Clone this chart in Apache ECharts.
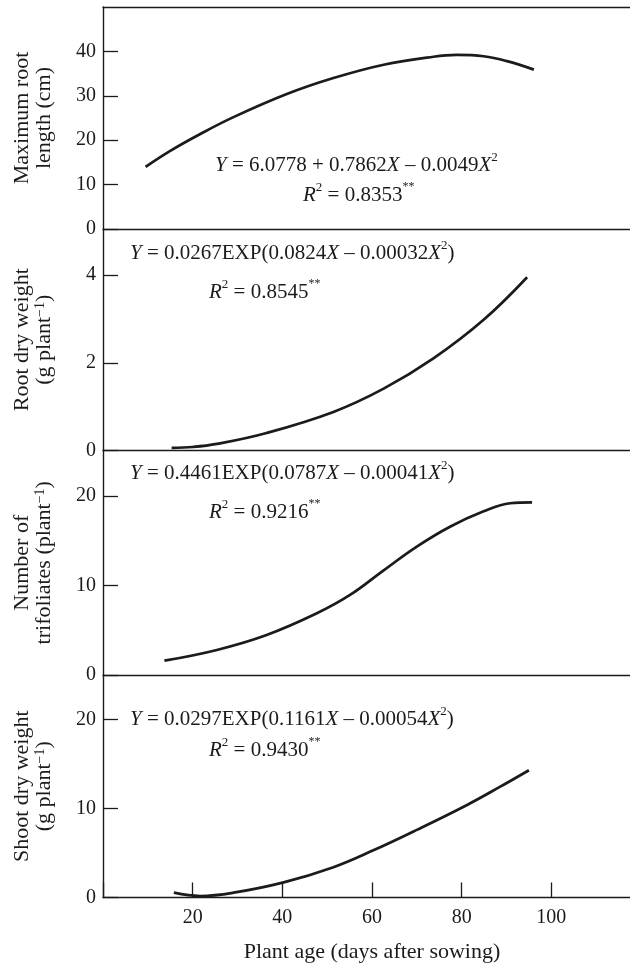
<!DOCTYPE html>
<html>
<head>
<meta charset="utf-8">
<script src="https://cdn.jsdelivr.net/npm/echarts@6/dist/echarts.min.js"></script>
<style>
  html, body { margin: 0; padding: 0; background: #fff; overflow: hidden; }
  #chart { width: 630px; height: 967px; }
</style>
</head>
<body>
<div id="chart"></div>
<script>
// values (days after sowing -> response)
const rootLenDays = [9.5, 15, 21.7, 29.1, 41, 51.4, 62.6, 73.7, 78.9, 84.9, 90.1, 96.1]
const rootLen = [14.0, 17.6, 21.4, 25.2, 30.4, 34.0, 37.0, 38.8, 39.2, 38.9, 37.8, 35.9]

const rootWtDays = [15.3, 20, 25.4, 36.5, 51.4, 62.6, 73.7, 84.9, 94.6]
const rootWt = [0.06, 0.08, 0.15, 0.40, 0.88, 1.41, 2.10, 2.98, 3.95]

const trifolDays = [13.7, 25.4, 36.5, 47.7, 55.1, 62.6, 70.0, 77.5, 84.9, 90.8, 95.7]
const trifol = [1.6, 2.8, 4.47, 6.9, 8.95, 11.7, 14.35, 16.6, 18.3, 19.2, 19.3]

const shootDays = [15.8, 21.7, 29.1, 40.3, 51.4, 60.3, 70.0, 81.2, 88.6, 95.0]
const shootWt = [0.54, 0.17, 0.54, 1.7, 3.4, 5.3, 7.6, 10.4, 12.45, 14.3]

const xTicks = [20, 40, 60, 80, 100]
const yTicks = [
  [0, 10, 20, 30, 40],
  [0, 2, 4],
  [0, 10, 20],
  [0, 10, 20],
]
const yMax = [50, 5.05, 25.1, 25]
const yStep = [10, 2, 10, 10]

const yNames = [
  '{n|Maximum root}\n{n|length (cm)}',
  '{n|Root dry weight}\n{n|(g plant}{s|−1}{n|)}',
  '{n|Number of}\n{n|trifoliates (plant}{s|−1}{n|)}',
  '{n|Shoot dry weight}\n{n|(g plant}{s|−1}{n|)}',
]
const equations = [
  '{i|Y}{n| = 6.0778 + 0.7862}{i|X}{n| – 0.0049}{i|X}{s|2}',
  '{i|Y}{n| = 0.0267EXP(0.0824}{i|X}{n| – 0.00032}{i|X}{s|2}{n|)}',
  '{i|Y}{n| = 0.4461EXP(0.0787}{i|X}{n| – 0.00041}{i|X}{s|2}{n|)}',
  '{i|Y}{n| = 0.0297EXP(0.1161}{i|X}{n| – 0.00054}{i|X}{s|2}{n|)}',
]
const rSquared = [
  '{i|R}{s|2}{n| = 0.8353}{a|**}',
  '{i|R}{s|2}{n| = 0.8545}{a|**}',
  '{i|R}{s|2}{n| = 0.9216}{a|**}',
  '{i|R}{s|2}{n| = 0.9430}{a|**}',
]

const FONT = '"Liberation Serif", "Times New Roman", serif'
const INK = '#1c1a1a'

// panel layout (px); x runs 0..120 at ~4.48 px/day, the right end is cut by the page
const panels = [
  { top: 7, height: 222, eq: [215, 165], r2: [303, 195] },
  { top: 229, height: 221.5, eq: [130, 253], r2: [209, 292] },
  { top: 450.5, height: 224.5, eq: [130, 473], r2: [209, 512] },
  { top: 675, height: 222.5, eq: [130, 719], r2: [209, 750] },
]

const eqRich = {
  n: { fontFamily: FONT, fontSize: 21, lineHeight: 28, fill: INK },
  i: { fontFamily: FONT, fontSize: 21, lineHeight: 28, fontStyle: 'italic', fill: INK },
  s: { fontFamily: FONT, fontSize: 13, lineHeight: 16, verticalAlign: 'top', fill: INK },
  a: { fontFamily: FONT, fontSize: 12, lineHeight: 16, verticalAlign: 'top', fill: INK },
}

const axisLine = { show: true, lineStyle: { color: INK, width: 1.4 } }

function pairs(xs, ys) {
  return xs.map((x, i) => [x, ys[i]])
}

const chart = echarts.init(document.getElementById('chart'), null, { renderer: 'canvas' })

const grids = panels.map((p) => ({
  left: 103,
  width: 538,
  top: p.top,
  height: p.height,
  outerBoundsMode: 'none',
  containLabel: false,
}))

const xAxes = panels.map((p, i) => {
  const last = i === panels.length - 1
  return {
    type: 'value',
    gridIndex: i,
    min: 0,
    max: 120,
    interval: 20,
    axisLine,
    splitLine: { show: false },
    axisTick: { show: last, inside: true, length: 15, lineStyle: { color: INK, width: 1.3 } },
    axisLabel: {
      show: last,
      margin: 10,
      fontFamily: FONT,
      fontSize: 20,
      color: INK,
      formatter: (v) => (xTicks.includes(v) ? String(v) : ''),
    },
    name: last ? 'Plant age (days after sowing)' : '',
    nameLocation: 'middle',
    nameGap: 44,
    nameTextStyle: { fontFamily: FONT, fontSize: 22, color: INK },
  }
})
// top frame line of the first panel
xAxes.push({
  type: 'value',
  gridIndex: 0,
  position: 'top',
  min: 0,
  max: 120,
  axisLine,
  axisTick: { show: false },
  axisLabel: { show: false },
  splitLine: { show: false },
})

const yAxes = panels.map((p, i) => ({
  type: 'value',
  gridIndex: i,
  min: 0,
  max: yMax[i],
  interval: yStep[i],
  axisLine,
  splitLine: { show: false },
  axisTick: { show: true, inside: true, length: 15, lineStyle: { color: INK, width: 1.3 } },
  axisLabel: {
    margin: 7,
    fontFamily: FONT,
    fontSize: 20,
    color: INK,
    showMaxLabel: false,
    formatter: (v) => (yTicks[i].includes(v) ? String(v) : ''),
  },
  name: yNames[i],
  nameLocation: 'middle',
  nameRotate: 90,
  nameGap: 48,
  nameTextStyle: {
    fontFamily: FONT,
    fontSize: 22,
    color: INK,
    rich: {
      n: { fontFamily: FONT, fontSize: 22, lineHeight: 22, color: INK },
      s: { fontFamily: FONT, fontSize: 14, lineHeight: 22, verticalAlign: 'top', color: INK },
    },
  },
}))

const curves = [
  pairs(rootLenDays, rootLen),
  pairs(rootWtDays, rootWt),
  pairs(trifolDays, trifol),
  pairs(shootDays, shootWt),
]

const series = curves.map((data, i) => ({
  type: 'line',
  xAxisIndex: i,
  yAxisIndex: i,
  data,
  smooth: 0.4,
  showSymbol: false,
  lineStyle: { color: INK, width: 2.7 },
  z: 3,
}))

const graphic = []
panels.forEach((p, i) => {
  graphic.push({
    type: 'text',
    x: p.eq[0],
    y: p.eq[1],
    style: { text: equations[i], rich: eqRich, textAlign: 'left', textVerticalAlign: 'middle' },
  })
  graphic.push({
    type: 'text',
    x: p.r2[0],
    y: p.r2[1],
    style: { text: rSquared[i], rich: eqRich, textAlign: 'left', textVerticalAlign: 'middle' },
  })
})

chart.setOption({
  animation: false,
  backgroundColor: '#fff',
  grid: grids,
  xAxis: xAxes,
  yAxis: yAxes,
  series,
  graphic,
})
</script>
</body>
</html>
